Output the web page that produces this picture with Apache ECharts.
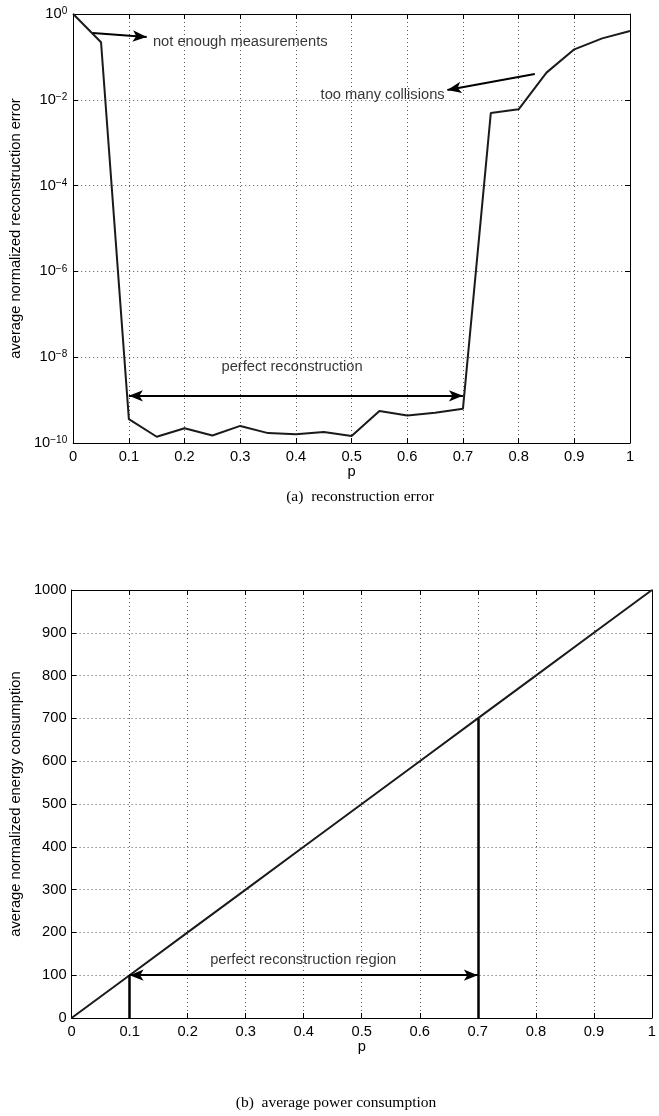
<!DOCTYPE html>
<html>
<head>
<meta charset="utf-8">
<script src="https://cdn.jsdelivr.net/npm/echarts@6/dist/echarts.min.js"></script>
<style>
  html, body { margin: 0; padding: 0; background: #ffffff; }
  #chart { width: 659px; height: 1116px; }
</style>
</head>
<body>
<div id="chart"></div>
<script>
// ---- data: reconstruction error vs. sampling probability p ----
const pValues = [0, 0.05, 0.1, 0.15, 0.2, 0.25, 0.3, 0.35, 0.4, 0.45, 0.5,
                 0.55, 0.6, 0.65, 0.7, 0.75, 0.8, 0.85, 0.9, 0.95, 1];
const errorValues = [1, 0.22, 3.6e-10, 1.4e-10, 2.2e-10, 1.5e-10, 2.5e-10, 1.7e-10, 1.6e-10, 1.8e-10, 1.45e-10,
                     5.6e-10, 4.4e-10, 5.1e-10, 6.3e-10, 4.9e-3, 6.0e-3, 0.043, 0.15, 0.27, 0.40];

// ---- data: average energy consumption vs. p ----
const energyP = [0, 0.1, 0.2, 0.3, 0.4, 0.5, 0.6, 0.7, 0.8, 0.9, 1];
const energyValues = [0, 100, 200, 300, 400, 500, 600, 700, 800, 900, 1000];

// ---- tick labels ----
const xTickLabels = ['0', '0.1', '0.2', '0.3', '0.4', '0.5', '0.6', '0.7', '0.8', '0.9', '1'];
const errorTickExponents = ['\u221210', '\u22128', '\u22126', '\u22124', '\u22122', '0'];
const energyTickLabels = ['0', '100', '200', '300', '400', '500', '600', '700', '800', '900', '1000'];

// ---- annotations (data coordinates) ----
const regionStart = 0.1;
const regionEnd = 0.7;
const errorRegionLevel = 1.26e-9;
const energyRegionLevel = 100;
const energyAtRegionEnd = 700;
const fewMeasurementsArrow = [[0.035, 0.36], [0.132, 0.29]];
const fewMeasurementsText = [0.144, 0.22];
const collisionsArrow = [[0.829, 0.040], [0.672, 0.017]];
const collisionsText = [0.668, 0.0125];
const perfectErrorText = [0.394, 5.9e-9];
const perfectEnergyText = [0.40, 135];

const SANS = '"Liberation Sans", Arial, Helvetica, sans-serif';
const SERIF = '"Liberation Serif", "Times New Roman", serif';
const FS = 14.7;
const INK = '#000000';
const HEAD = [8.5, 14];   // arrowhead: half-spread basis, length

const chart = echarts.init(document.getElementById('chart'), null, { renderer: 'canvas' });

const dotted = { show: true, lineStyle: { color: '#555555', width: 1, type: [1, 3] } };
const frameLine = { show: true, onZero: false, lineStyle: { color: '#000000', width: 1 } };
const tick = { show: true, inside: true, length: 5, lineStyle: { color: '#000000', width: 1 } };

function xAxes(gridIndex, nameGap) {
  return [
    {
      gridIndex, type: 'value', min: 0, max: 1, interval: 0.1, position: 'bottom',
      axisLine: frameLine, axisTick: tick, splitLine: dotted,
      axisLabel: { color: INK, fontSize: FS, fontFamily: SANS, margin: 6,
                   formatter: (v, i) => xTickLabels[i] },
      name: 'p', nameLocation: 'middle', nameGap,
      nameTextStyle: { color: INK, fontSize: FS, fontFamily: SANS }
    },
    {
      gridIndex, type: 'value', min: 0, max: 1, interval: 0.1, position: 'top',
      axisLine: frameLine, axisTick: tick, splitLine: { show: false }, axisLabel: { show: false }
    }
  ];
}

// text placed exactly at a data point, aligned as requested
function note(value, text, align) {
  return { value, label: { show: true, position: [0, 0], align, verticalAlign: 'middle', formatter: text } };
}

// arrow ends: ECharts puts the tip of the 'arrow' symbol on the line end
const plain = { symbol: 'none' };
const head = { symbol: 'arrow', symbolSize: HEAD };
function end(coord, style) { return Object.assign({ coord }, style); }

const markLineBase = {
  silent: true, animation: false,
  label: { show: false }, emphasis: { disabled: true },
  lineStyle: { color: '#000000', width: 2, type: 'solid' }
};

const option = {
  animation: false,
  backgroundColor: '#ffffff',
  textStyle: { fontFamily: SANS },
  title: [
    { text: '(a)  reconstruction error', left: 355, top: 484, textAlign: 'center',
      textStyle: { fontFamily: SERIF, fontSize: 15.5, fontWeight: 'normal', color: INK } },
    { text: '(b)  average power consumption', left: 331, top: 1090, textAlign: 'center',
      textStyle: { fontFamily: SERIF, fontSize: 15.5, fontWeight: 'normal', color: INK } }
  ],
  grid: [
    { left: 62, top: 14, width: 568, height: 429, containLabel: false },
    { left: 66, top: 590, width: 592, height: 428, containLabel: false }
  ],
  xAxis: [].concat(xAxes(0, 20), xAxes(1, 20)),
  yAxis: [
    {
      gridIndex: 0, type: 'log', logBase: 10, min: 1e-10, max: 1, interval: 2, position: 'left',
      axisLine: frameLine, axisTick: tick, splitLine: dotted, minorTick: { show: false },
      axisLabel: {
        margin: 6, color: INK, fontFamily: SANS,
        formatter: (v, i) => '{b|10}{s|' + errorTickExponents[i] + '}',
        rich: {
          b: { fontSize: FS, fontFamily: SANS, color: INK },
          s: { fontSize: 10, fontFamily: SANS, color: INK, verticalAlign: 'top', lineHeight: 10 }
        }
      },
      name: 'average normalized reconstruction error', nameLocation: 'middle', nameGap: 41,
      nameTextStyle: { color: INK, fontSize: FS, fontFamily: SANS }
    },
    {
      gridIndex: 0, type: 'log', logBase: 10, min: 1e-10, max: 1, interval: 2, position: 'right',
      axisLine: frameLine, axisTick: tick, splitLine: { show: false }, axisLabel: { show: false }
    },
    {
      gridIndex: 1, type: 'value', min: 0, max: 1000, interval: 100, position: 'left',
      axisLine: frameLine, axisTick: tick, splitLine: dotted,
      axisLabel: { margin: 5, color: INK, fontSize: FS, fontFamily: SANS,
                   formatter: (v, i) => energyTickLabels[i] },
      name: 'average normalized energy consumption', nameLocation: 'middle', nameGap: 44,
      nameTextStyle: { color: INK, fontSize: FS, fontFamily: SANS }
    },
    {
      gridIndex: 1, type: 'value', min: 0, max: 1000, interval: 100, position: 'right',
      axisLine: frameLine, axisTick: tick, splitLine: { show: false }, axisLabel: { show: false }
    }
  ],
  series: [
    {
      name: 'reconstruction error', type: 'line', xAxisIndex: 0, yAxisIndex: 0,
      data: pValues.map((p, i) => [p, errorValues[i]]),
      showSymbol: false, silent: true,
      lineStyle: { color: '#1a1a1a', width: 2 },
      markLine: Object.assign({}, markLineBase, {
        data: [
          [end(fewMeasurementsArrow[0], plain), end(fewMeasurementsArrow[1], head)],
          [end(collisionsArrow[0], plain), end(collisionsArrow[1], head)],
          [end([regionStart, errorRegionLevel], head), end([regionEnd, errorRegionLevel], head)]
        ]
      })
    },
    {
      name: 'error notes', type: 'scatter', xAxisIndex: 0, yAxisIndex: 0,
      symbolSize: 1, itemStyle: { color: 'rgba(0,0,0,0)' }, silent: true,
      label: { show: true, color: INK, fontSize: FS, fontFamily: SANS },
      data: [
        note(fewMeasurementsText, 'not enough measurements', 'left'),
        note(collisionsText, 'too many collisions', 'right'),
        note(perfectErrorText, 'perfect reconstruction', 'center')
      ]
    },
    {
      name: 'energy', type: 'line', xAxisIndex: 2, yAxisIndex: 2,
      data: energyP.map((p, i) => [p, energyValues[i]]),
      showSymbol: false, silent: true,
      lineStyle: { color: '#1a1a1a', width: 2 },
      markLine: Object.assign({}, markLineBase, {
        data: [
          [end([regionStart, 0], Object.assign({ lineStyle: { width: 2.5 } }, plain)),
           end([regionStart, energyRegionLevel], plain)],
          [end([regionEnd, 0], Object.assign({ lineStyle: { width: 2.5 } }, plain)),
           end([regionEnd, energyAtRegionEnd], plain)],
          [end([regionStart, energyRegionLevel], head), end([regionEnd, energyRegionLevel], head)]
        ]
      })
    },
    {
      name: 'energy notes', type: 'scatter', xAxisIndex: 2, yAxisIndex: 2,
      symbolSize: 1, itemStyle: { color: 'rgba(0,0,0,0)' }, silent: true,
      label: { show: true, color: INK, fontSize: FS, fontFamily: SANS },
      data: [
        note(perfectEnergyText, 'perfect reconstruction region', 'center')
      ]
    }
  ]
};

chart.setOption(option);
</script>
</body>
</html>
